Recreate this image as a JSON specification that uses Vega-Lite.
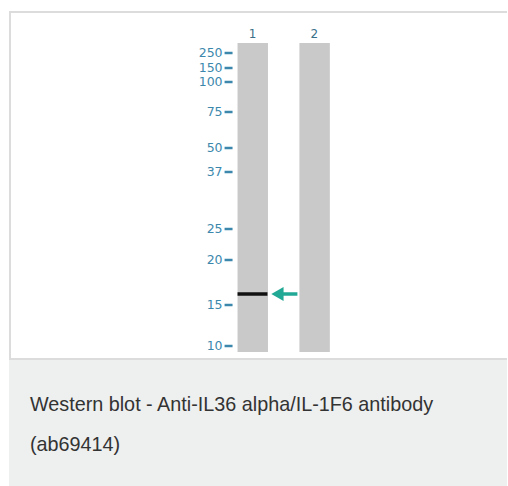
{
  "$schema": "https://vega.github.io/schema/vega-lite/v6.json",
  "width": 508,
  "height": 486,
  "autosize": {"type": "fit", "contains": "padding"},
  "padding": 0,
  "background": "white",
  "config": {"view": {"stroke": null}},
  "datasets": {
    "caption_bg": [{"x0": 9, "x1": 508, "y0": 359, "y1": 486}],
    "borders": [
      {"x0": 9, "x1": 508, "y0": 12, "y1": 12},
      {"x0": 10, "x1": 10, "y0": 12, "y1": 359},
      {"x0": 9, "x1": 508, "y0": 359, "y1": 359}
    ],
    "lanes": [
      {"lane": "1", "x0": 238, "x1": 268.5, "y0": 43, "y1": 352, "lx": 253},
      {"lane": "2", "x0": 300, "x1": 330.5, "y0": 43, "y1": 352, "lx": 315}
    ],
    "markers": [
      {"kda": "250", "y": 53},
      {"kda": "150", "y": 68},
      {"kda": "100", "y": 82},
      {"kda": "75", "y": 112},
      {"kda": "50", "y": 148},
      {"kda": "37", "y": 172},
      {"kda": "25", "y": 229},
      {"kda": "20", "y": 260},
      {"kda": "15", "y": 305},
      {"kda": "10", "y": 346}
    ],
    "band": [{"x0": 238, "x1": 268, "y": 294}],
    "arrow": [{"x0": 281, "x1": 298, "y": 294, "tip": 278}],
    "caption": [
      {"line": "Western blot - Anti-IL36 alpha/IL-1F6 antibody", "x": 30, "y": 411},
      {"line": "(ab69414)", "x": 30, "y": 451}
    ]
  },
  "layer": [
    {
      "data": {"name": "caption_bg"},
      "mark": {"type": "rect", "fill": "#eeefef"},
      "encoding": {
        "x": {"field": "x0", "type": "quantitative", "scale": {"domain": [0, 508], "nice": false, "zero": false}, "axis": null},
        "x2": {"field": "x1"},
        "y": {"field": "y0", "type": "quantitative", "scale": {"domain": [0, 486], "reverse": true, "nice": false, "zero": false}, "axis": null},
        "y2": {"field": "y1"}
      }
    },
    {
      "data": {"name": "borders"},
      "mark": {"type": "rule", "color": "#dcdcdc", "strokeWidth": 2},
      "encoding": {
        "x": {"field": "x0", "type": "quantitative"},
        "x2": {"field": "x1"},
        "y": {"field": "y0", "type": "quantitative"},
        "y2": {"field": "y1"}
      }
    },
    {
      "data": {"name": "lanes"},
      "mark": {"type": "rect", "fill": "#c9c9c9"},
      "encoding": {
        "x": {"field": "x0", "type": "quantitative"},
        "x2": {"field": "x1"},
        "y": {"field": "y0", "type": "quantitative"},
        "y2": {"field": "y1"}
      }
    },
    {
      "data": {"name": "lanes"},
      "mark": {"type": "text", "font": "DejaVu Sans", "fontSize": 12, "color": "#3a6f8a", "baseline": "middle", "align": "center"},
      "encoding": {
        "x": {"field": "lx", "type": "quantitative"},
        "y": {"datum": 34, "type": "quantitative"},
        "text": {"field": "lane"}
      }
    },
    {
      "data": {"name": "markers"},
      "mark": {"type": "text", "font": "DejaVu Sans", "fontSize": 12.5, "color": "#3c88ad", "baseline": "middle", "align": "right"},
      "encoding": {
        "x": {"datum": 223, "type": "quantitative"},
        "y": {"field": "y", "type": "quantitative"},
        "text": {"field": "kda"}
      }
    },
    {
      "data": {"name": "markers"},
      "mark": {"type": "rule", "color": "#3c88ad", "strokeWidth": 2.5},
      "encoding": {
        "x": {"datum": 225, "type": "quantitative"},
        "x2": {"datum": 233},
        "y": {"field": "y", "type": "quantitative"}
      }
    },
    {
      "data": {"name": "band"},
      "mark": {"type": "rule", "color": "#111111", "strokeWidth": 3.5},
      "encoding": {
        "x": {"field": "x0", "type": "quantitative"},
        "x2": {"field": "x1"},
        "y": {"field": "y", "type": "quantitative"}
      }
    },
    {
      "data": {"name": "arrow"},
      "mark": {"type": "rule", "color": "#22a995", "strokeWidth": 3.5},
      "encoding": {
        "x": {"field": "x0", "type": "quantitative"},
        "x2": {"field": "x1"},
        "y": {"field": "y", "type": "quantitative"}
      }
    },
    {
      "data": {"name": "arrow"},
      "mark": {"type": "point", "shape": "triangle-left", "filled": true, "color": "#22a995", "size": 200, "opacity": 1},
      "encoding": {
        "x": {"field": "tip", "type": "quantitative"},
        "y": {"field": "y", "type": "quantitative"}
      }
    },
    {
      "data": {"name": "caption"},
      "mark": {"type": "text", "font": "Liberation Sans", "fontSize": 19.8, "color": "#333333", "baseline": "alphabetic", "align": "left"},
      "encoding": {
        "x": {"field": "x", "type": "quantitative"},
        "y": {"field": "y", "type": "quantitative"},
        "text": {"field": "line"}
      }
    }
  ]
}
